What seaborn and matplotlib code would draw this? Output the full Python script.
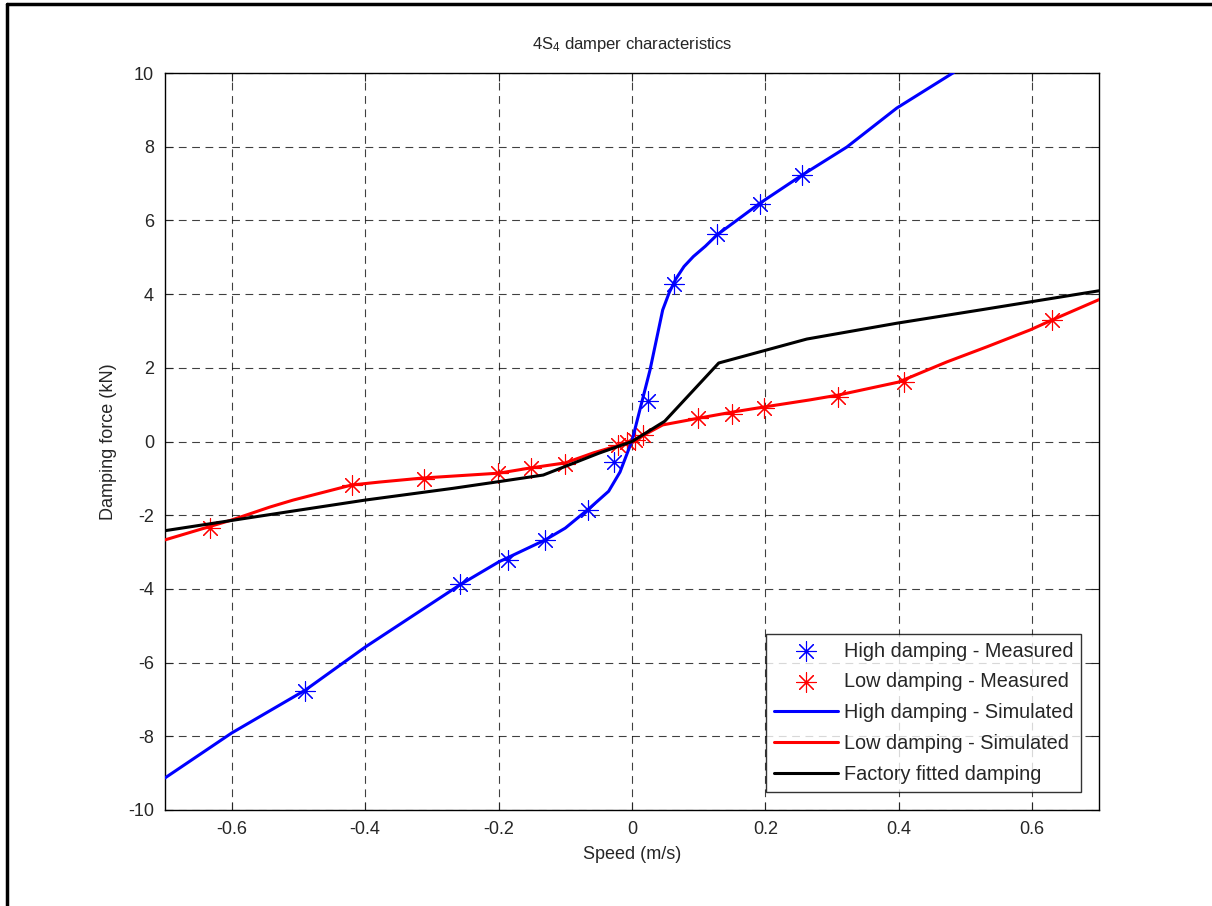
import matplotlib
matplotlib.use("Agg")
import matplotlib.pyplot as plt
from matplotlib.lines import Line2D
import seaborn as sns
import pandas as pd

# measured points (speed m/s, force kN)
high_meas_x = [-0.490, -0.258, -0.186, -0.130, -0.066, -0.027, 0.024, 0.063, 0.127, 0.192, 0.255]
high_meas_y = [-6.77, -3.87, -3.22, -2.67, -1.86, -0.56, 1.10, 4.27, 5.63, 6.44, 7.23]
low_meas_x = [-0.633, -0.420, -0.312, -0.201, -0.151, -0.100, -0.021, -0.007, 0.004, 0.016,
              0.099, 0.150, 0.198, 0.309, 0.408, 0.630]
low_meas_y = [-2.35, -1.18, -1.02, -0.85, -0.72, -0.62, -0.09, -0.01, 0.04, 0.18,
              0.64, 0.75, 0.91, 1.21, 1.62, 3.30]

# simulated curves
high_sim_x = [-0.70, -0.60, -0.49, -0.40, -0.258, -0.20, -0.13, -0.10, -0.063, -0.035, -0.018, 0.0,
              0.027, 0.046, 0.056, 0.066, 0.078, 0.092, 0.110, 0.127, 0.192, 0.255, 0.322, 0.397,
              0.481, 0.53]
high_sim_y = [-9.13, -7.91, -6.75, -5.58, -3.89, -3.27, -2.67, -2.35, -1.80, -1.35, -0.83, 0.02,
              1.94, 3.57, 4.05, 4.42, 4.75, 5.02, 5.30, 5.60, 6.47, 7.23, 7.99, 9.05,
              10.0, 10.7]
low_sim_x = [-0.70, -0.60, -0.543, -0.508, -0.42, -0.378, -0.313, -0.20, -0.153, -0.10, -0.058, 0.0,
             0.046, 0.102, 0.151, 0.199, 0.267, 0.309, 0.399, 0.472, 0.532, 0.597, 0.63, 0.70]
low_sim_y = [-2.67, -2.13, -1.78, -1.59, -1.18, -1.10, -0.99, -0.86, -0.72, -0.58, -0.31, 0.0,
             0.45, 0.64, 0.80, 0.94, 1.13, 1.26, 1.61, 2.16, 2.57, 3.03, 3.30, 3.85]
factory_x = [-0.70, -0.52, -0.40, -0.268, -0.20, -0.133, -0.05, 0.0, 0.049, 0.13, 0.262, 0.397, 0.522, 0.70]
factory_y = [-2.42, -1.92, -1.59, -1.27, -1.09, -0.91, -0.32, 0.0, 0.55, 2.13, 2.78, 3.21, 3.57, 4.09]

sns.set_style("ticks")
plt.rcParams['font.family'] = ['Liberation Sans', 'DejaVu Sans']
plt.rcParams['mathtext.fontset'] = 'custom'
plt.rcParams['mathtext.rm'] = 'Liberation Sans'
plt.rcParams['mathtext.it'] = 'Liberation Sans'
plt.rcParams['axes.unicode_minus'] = False

fig = plt.figure(figsize=(12.12, 9.06), dpi=100)
ax = fig.add_axes([165 / 1212, 1 - 810 / 906, 934 / 1212, 737 / 906])

star = (8, 2, 0)
sns.scatterplot(x=high_meas_x, y=high_meas_y, ax=ax, marker=star, s=200, color='blue',
                linewidth=0.8, label='High damping - Measured', zorder=3)
sns.scatterplot(x=low_meas_x, y=low_meas_y, ax=ax, marker=star, s=200, color='red',
                linewidth=0.8, label='Low damping - Measured', zorder=3)
sns.lineplot(x=high_sim_x, y=high_sim_y, ax=ax, color='blue', linewidth=2.2,
             label='High damping - Simulated', zorder=4)
sns.lineplot(x=low_sim_x, y=low_sim_y, ax=ax, color='red', linewidth=2.2,
             label='Low damping - Simulated', zorder=4)
sns.lineplot(x=factory_x, y=factory_y, ax=ax, color='black', linewidth=2.2,
             label='Factory fitted damping', zorder=4)

ax.set_xlim(-0.7, 0.7)
ax.set_ylim(-10, 10)
xt = [-0.6, -0.4, -0.2, 0, 0.2, 0.4, 0.6]
ax.set_xticks(xt)
ax.set_xticklabels(['-0.6', '-0.4', '-0.2', '0', '0.2', '0.4', '0.6'])
yt = list(range(-10, 11, 2))
ax.set_yticks(yt)
ax.set_yticklabels([str(v) for v in yt])
ax.tick_params(direction='in', top=True, right=True, labelsize=13, length=6, width=0.8, pad=8)
ax.grid(True, color='black', linestyle=(0, (7, 5)), linewidth=0.8, alpha=0.75)
for s in ax.spines.values():
    s.set_visible(True)
    s.set_linewidth(1.0)
    s.set_color('black')

ax.set_xlabel('Speed (m/s)', fontsize=13, labelpad=6)
ax.set_ylabel('Damping force (kN)', fontsize=13, labelpad=8)
ax.set_title(r'4S$_4$ damper characteristics', fontsize=12, pad=17)

leg = ax.legend(loc='lower right', fontsize=14.3, handlelength=3.2, handletextpad=0.3,
                frameon=True, fancybox=False, edgecolor='black', borderpad=0.4,
                labelspacing=0.6, borderaxespad=0.9)
leg.get_frame().set_linewidth(1.0)

# outer frame as in the original export
fig.add_artist(Line2D([7 / 1212, 7 / 1212], [0, 1 - 4 / 906], transform=fig.transFigure,
                      color='black', linewidth=2.5))
fig.add_artist(Line2D([7 / 1212, 1], [1 - 4 / 906, 1 - 4 / 906], transform=fig.transFigure,
                      color='black', linewidth=2.5))

fig.savefig('out.png', dpi=100)
